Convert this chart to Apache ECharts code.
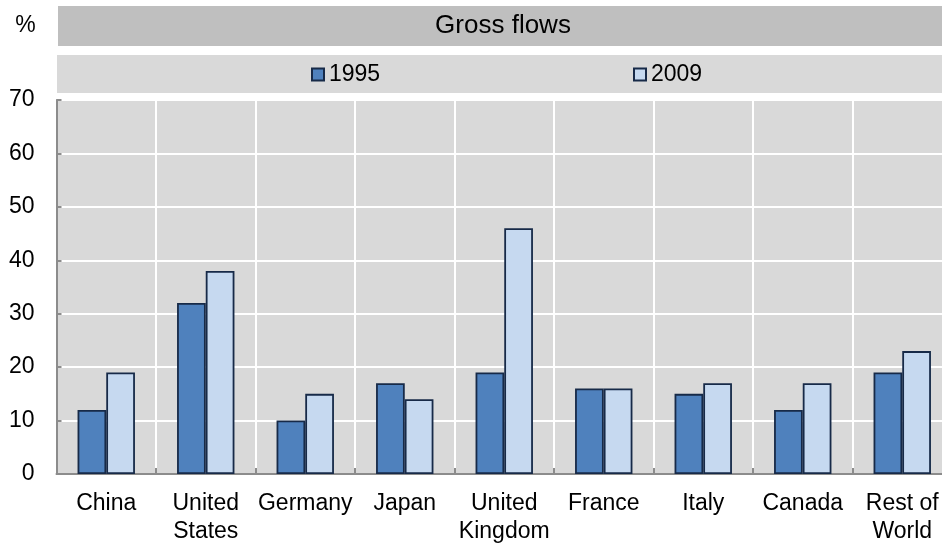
<!DOCTYPE html>
<html>
<head>
<meta charset="utf-8">
<script src="https://cdn.jsdelivr.net/npm/echarts@6/dist/echarts.min.js"></script>
<style>
  html, body { margin: 0; padding: 0; background: #fff; }
  #chart { width: 942px; height: 543px; }
</style>
</head>
<body>
<div id="chart"></div>
<script>
// Gross flows by economy, share in per cent
const categories = ['China', 'United\nStates', 'Germany', 'Japan', 'United\nKingdom', 'France', 'Italy', 'Canada', 'Rest of\nWorld'];
const values1995 = [12, 32, 10, 17, 19, 16, 15, 12, 19];
const values2009 = [19, 38, 15, 14, 46, 16, 17, 17, 23];
const seriesNames = ['1995', '2009'];
const yTicks = { min: 0, max: 70, interval: 10 };
const panelTitle = 'Gross flows';
const unitLabel = '%';

const FONT = '"Liberation Sans", Arial, sans-serif';
const BORDER = '#172a48';

const chart = echarts.init(document.getElementById('chart'), null, { renderer: 'canvas' });

chart.setOption({
  animation: false,
  backgroundColor: '#ffffff',
  textStyle: { fontFamily: FONT },
  grid: {
    left: 56.5, width: 895.5, top: 100, height: 374,
    outerBoundsMode: 'none', containLabel: false,
    show: true, backgroundColor: '#d9d9d9', borderWidth: 0
  },
  graphic: [
    { type: 'rect', z: -1, shape: { x: 58, y: 6, width: 884, height: 40 }, style: { fill: '#bfbfbf' } },
    { type: 'rect', z: -1, shape: { x: 57, y: 55, width: 885, height: 38 }, style: { fill: '#d9d9d9' } },
    { type: 'text', x: 503, y: 26, style: { text: panelTitle, font: '26px ' + FONT, fill: '#000', align: 'center', verticalAlign: 'middle' } },
    { type: 'text', x: 25.5, y: 26, style: { text: unitLabel, font: '23px ' + FONT, fill: '#000', align: 'center', verticalAlign: 'middle' } }
  ],
  legend: [
    {
      data: [seriesNames[0]], left: 311, top: 63, padding: 0,
      icon: 'rect', itemWidth: 12, itemHeight: 12, itemGap: 5,
      textStyle: { fontFamily: FONT, fontSize: 23, color: '#000' }
    },
    {
      data: [seriesNames[1]], left: 633, top: 63, padding: 0,
      icon: 'rect', itemWidth: 12, itemHeight: 12, itemGap: 5,
      textStyle: { fontFamily: FONT, fontSize: 23, color: '#000' }
    }
  ],
  xAxis: {
    type: 'category',
    data: categories,
    boundaryGap: true,
    axisLine: { show: true, lineStyle: { color: '#8c8c8c', width: 2 } },
    axisTick: { show: true, inside: true, length: 6, alignWithLabel: false, lineStyle: { color: '#8c8c8c', width: 2 } },
    splitLine: { show: true, lineStyle: { color: '#ffffff', width: 2 } },
    axisLabel: {
      interval: 0, margin: 16, fontFamily: FONT, fontSize: 23, color: '#000', lineHeight: 28
    }
  },
  yAxis: {
    type: 'value',
    min: yTicks.min, max: yTicks.max, interval: yTicks.interval,
    axisLine: { show: true, lineStyle: { color: '#8c8c8c', width: 2 } },
    axisTick: { show: true, inside: true, length: 5, lineStyle: { color: '#8c8c8c', width: 2 } },
    splitLine: { show: true, lineStyle: { color: '#ffffff', width: 2 } },
    axisLabel: { margin: 22, fontFamily: FONT, fontSize: 23, color: '#000' }
  },
  series: [
    {
      name: seriesNames[0], type: 'bar', data: values1995,
      barWidth: 28.7, barGap: '0%',
      itemStyle: { color: '#4f81bd', borderColor: BORDER, borderWidth: 1.8 }
    },
    {
      name: seriesNames[1], type: 'bar', data: values2009,
      barWidth: 28.7, barGap: '0%',
      itemStyle: { color: '#c6d9f0', borderColor: BORDER, borderWidth: 1.8 }
    }
  ]
});
</script>
</body>
</html>
